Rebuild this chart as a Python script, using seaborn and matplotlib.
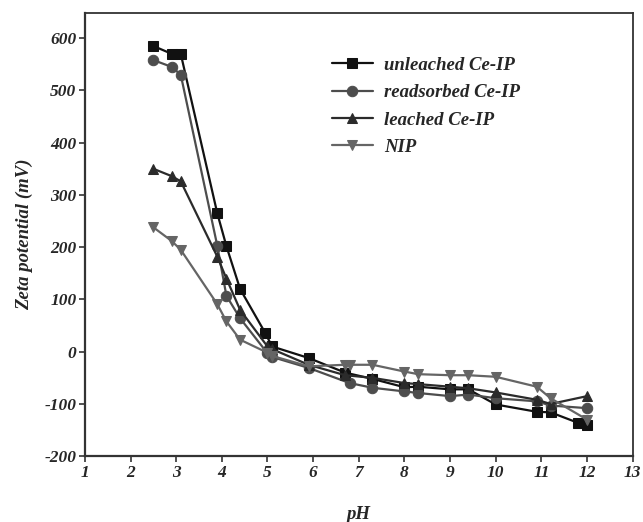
"""Zeta potential vs pH for Ce-IP samples."""

import matplotlib

matplotlib.use("Agg")

import matplotlib.pyplot as plt
import pandas as pd
import seaborn as sns

series_names = ["unleached Ce-IP", "readsorbed Ce-IP", "leached Ce-IP", "NIP"]

ph_unleached = [2.5, 2.9, 3.1, 3.9, 4.1, 4.4, 4.95, 5.1, 5.9, 6.7, 7.3, 8.0, 8.3, 9.0, 9.4, 10.0, 10.9, 11.2, 11.8, 12.0]
zeta_unleached = [585, 570, 570, 265, 202, 120, 36, 10, -12, -40, -52, -68, -67, -72, -72, -101, -115, -116, -136, -140]

ph_readsorbed = [2.5, 2.9, 3.1, 3.9, 4.1, 4.4, 5.0, 5.1, 5.9, 6.8, 7.3, 8.0, 8.3, 9.0, 9.4, 10.0, 10.9, 11.2, 12.0]
zeta_readsorbed = [558, 545, 530, 203, 107, 64, -3, -10, -31, -60, -69, -76, -79, -85, -82, -89, -95, -103, -108]

ph_leached = [2.5, 2.9, 3.1, 3.9, 4.1, 4.4, 5.0, 5.1, 5.9, 6.7, 7.3, 8.0, 8.3, 9.0, 9.4, 10.0, 10.9, 11.2, 12.0]
zeta_leached = [350, 336, 326, 182, 140, 80, 10, 5, -25, -45, -50, -60, -62, -67, -70, -78, -92, -100, -85]

ph_nip = [2.5, 2.9, 3.1, 3.9, 4.1, 4.4, 5.0, 5.1, 5.9, 6.7, 6.8, 7.3, 8.0, 8.3, 9.0, 9.4, 10.0, 10.9, 11.2, 12.0]
zeta_nip = [238, 212, 195, 91, 58, 23, -2, -8, -28, -25, -25, -25, -38, -43, -45, -45, -48, -67, -89, -130]

x_ticks = list(range(1, 14))
y_ticks = list(range(-200, 601, 100))

sns.set_style("ticks")
plt.rcParams["font.family"] = ["Liberation Serif", "DejaVu Serif"]

fig = plt.figure(figsize=(6.43, 5.22), dpi=100)
ax = fig.add_axes([0.132, 0.126, 0.852, 0.849])

data = [
    (ph_unleached, zeta_unleached, "s", "#111111"),
    (ph_readsorbed, zeta_readsorbed, "o", "#4d4d4d"),
    (ph_leached, zeta_leached, "^", "#2b2b2b"),
    (ph_nip, zeta_nip, "v", "#656565"),
]

for name, (xs, ys, marker, color) in zip(series_names, data):
    df = pd.DataFrame({"pH": xs, "zeta": ys})
    sns.lineplot(
        data=df, x="pH", y="zeta", ax=ax, sort=False, estimator=None,
        color=color, marker=marker, markersize=7.5, markeredgecolor=color,
        linewidth=1.6, label=name,
    )

ax.set_xlim(1, 13)
ax.set_ylim(-200, 648)
ax.set_xticks(x_ticks)
ax.set_yticks(y_ticks)

tick_font = dict(fontsize=12.5, fontweight="bold", fontstyle="italic")
ax.set_xticklabels([str(t) for t in x_ticks], **tick_font)
ax.set_yticklabels([str(t) for t in y_ticks], **tick_font)
ax.tick_params(axis="both", direction="out", length=4, width=1.2, color="#333333", pad=2)

for side, spine in ax.spines.items():
    spine.set_visible(True)
    spine.set_color("#333333")
    spine.set_linewidth(1.6 if side in ("left", "bottom") else 1.3)

ax.set_xlabel("pH", fontsize=13.5, fontweight="bold", fontstyle="italic", labelpad=18)
ax.set_ylabel("Zeta potential (mV)", fontsize=13.5, fontweight="bold", fontstyle="italic", labelpad=8)

leg = ax.legend(
    loc="upper left", bbox_to_anchor=(0.42, 0.94), frameon=False,
    prop=dict(size=13.5, weight="bold", style="italic"),
    handlelength=2.2, labelspacing=0.55, handletextpad=0.6,
)

fig.savefig("out.png", dpi=100, facecolor="white")
plt.close(fig)
